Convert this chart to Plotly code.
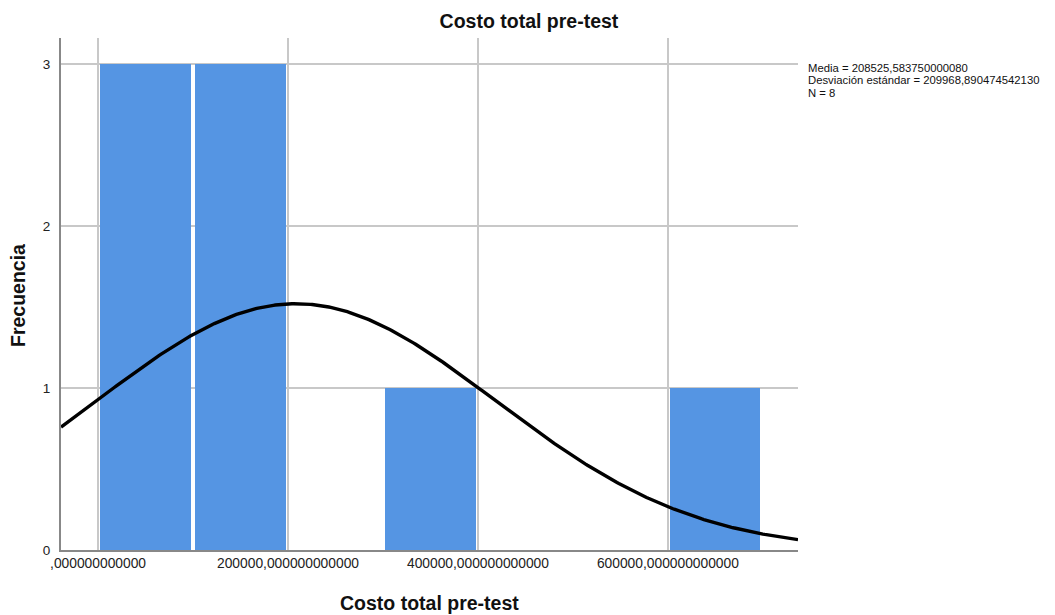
import numpy as np
import plotly.graph_objects as go

# Data
bin_starts = [0, 100000, 200000, 300000, 400000, 500000, 600000]
counts = [3, 3, 0, 1, 0, 0, 1]
bin_width = 100000
mean = 208525.583750000080
sd = 209968.890474542130
n = 8
x_tickvals = [0, 200000, 400000, 600000]
x_ticktext = [",000000000000", "200000,000000000000", "400000,000000000000", "600000,000000000000"]
y_tickvals = [0, 1, 2, 3]
stats_lines = ["Media = 208525,583750000080",
               "Desviación estándar = 209968,890474542130",
               "N = 8"]

x_range = [-39000, 737000]

centers = [s + bin_width / 2 for s in bin_starts]

# Fitted normal curve (as SPSS draws it) from the stated mean / sd / N
xs = np.linspace(x_range[0], x_range[1], 400)
ys = n * bin_width / (sd * np.sqrt(2 * np.pi)) * np.exp(-0.5 * ((xs - mean) / sd) ** 2)

# page body has an 8px default margin -> compensate
OFF = 8
W, H = 1055 - OFF, 615 - OFF
L, R, T, B = 61 - OFF, 798 - OFF, 38 - OFF, 550 - OFF
pw, ph = R - L, B - T

fig = go.Figure()
fig.add_trace(go.Bar(
    x=centers, y=counts, width=bin_width * 0.95,
    marker=dict(color="#5595e3", line=dict(width=0)),
    hoverinfo="x+y", showlegend=False,
))
fig.add_trace(go.Scatter(
    x=xs, y=ys, mode="lines", line=dict(color="black", width=3.4),
    showlegend=False, hoverinfo="skip",
))

fig.update_layout(
    width=W, height=H,
    margin=dict(l=L, r=W - R, t=T, b=H - B, autoexpand=False),
    paper_bgcolor="white", plot_bgcolor="white",
    font=dict(family="Liberation Sans, Arial, sans-serif", color="#222"),
    title=dict(text="<b>Costo total pre-test</b>", x=(529 - OFF) / W, xanchor="center",
               y=1 - (21 - OFF) / H, yanchor="middle",
               font=dict(size=19.5, color="#111")),
    bargap=0,
)
fig.update_xaxes(
    range=x_range, tickvals=x_tickvals, ticktext=x_ticktext,
    showgrid=True, gridcolor="#c8c8c8", gridwidth=1.5,
    showline=True, linecolor="#888", linewidth=1.5,
    zeroline=False, ticks="", tickfont=dict(size=13.8, color="#222"),
    automargin=False, layer="below traces",
)
fig.update_yaxes(
    range=[0, 3.16], tickvals=y_tickvals,
    showgrid=True, gridcolor="#c8c8c8", gridwidth=1.5,
    showline=True, linecolor="#888", linewidth=2,
    zeroline=False, ticks="", ticklabelstandoff=6, tickfont=dict(size=13.5, color="#222"),
    automargin=False,
)
# axis titles
fig.add_annotation(
    xref="paper", yref="paper", x=0.5, y=-(603 - 550) / ph,
    xanchor="center", yanchor="middle", showarrow=False,
    text="<b>Costo total pre-test</b>", font=dict(size=19.5, color="#111"),
)
fig.add_annotation(
    xref="paper", yref="paper", x=-(61 - 18) / pw, y=(550 - 296) / ph,
    xanchor="center", yanchor="middle", showarrow=False, textangle=-90,
    text="<b>Frecuencia</b>", font=dict(size=19.5, color="#111"),
)
# stats box
for i, line in enumerate(stats_lines):
    fig.add_annotation(
        xref="paper", yref="paper", x=(806 - 61) / pw, y=(550 - (67.5 + 12.5 * i)) / ph,
        xanchor="left", yanchor="middle", align="left", showarrow=False,
        text=line, font=dict(size=11.3, color="#111"),
    )

fig.write_html("out.html")
